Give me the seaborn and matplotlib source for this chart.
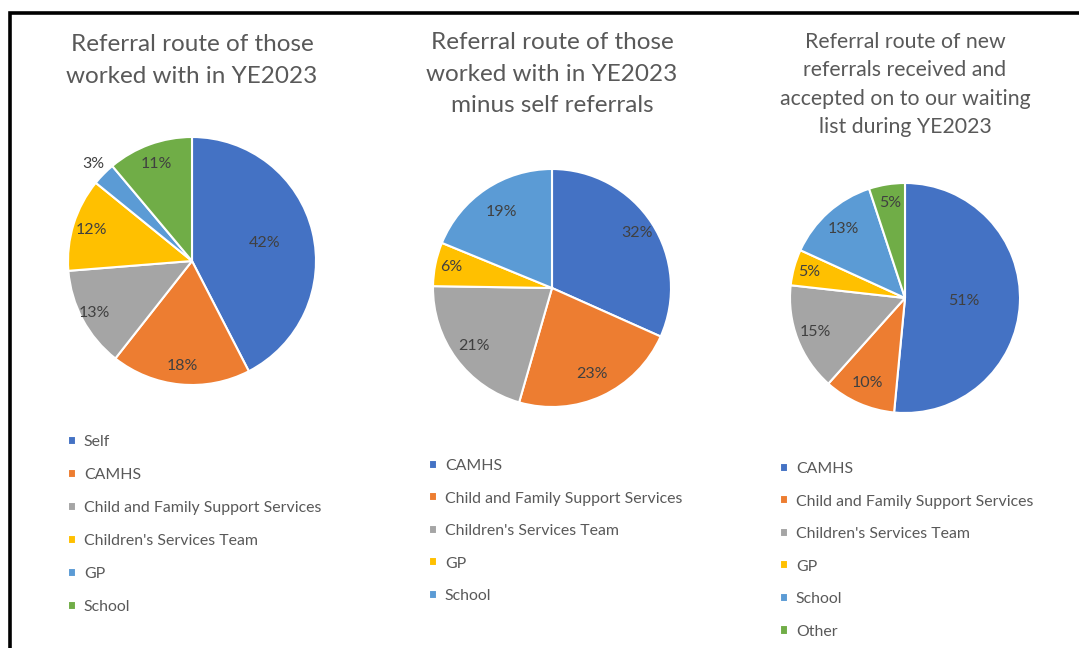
import numpy as np
import matplotlib
matplotlib.use("Agg")
import matplotlib.pyplot as plt
from matplotlib.patches import Rectangle
import seaborn as sns

# --- data (percentages) ---
labels_all = ["Self", "CAMHS", "Child and Family Support Services",
              "Children's Services Team", "GP", "School"]
values_all = [42, 18, 13, 12, 3, 11]

labels_noself = ["CAMHS", "Child and Family Support Services",
                 "Children's Services Team", "GP", "School"]
values_noself = [32, 23, 21, 6, 19]

labels_new = ["CAMHS", "Child and Family Support Services",
              "Children's Services Team", "GP", "School", "Other"]
values_new = [51, 10, 15, 5, 13, 5]

titles = [
    "Referral route of those\nworked with in YE2023",
    "Referral route of those\nworked with in YE2023\nminus self referrals",
    "Referral route of new\nreferrals received and\naccepted on to our waiting\nlist during YE2023",
]

office = ["#4472C4", "#ED7D31", "#A5A5A5", "#FFC000", "#5B9BD5", "#70AD47"]

sns.set_theme(style="white")
plt.rcParams["font.family"] = ["Lato", "DejaVu Sans"]

W, H = 1079, 648
fig = plt.figure(figsize=(W / 100, H / 100), dpi=100)
fig.patch.set_facecolor("white")

# layout in pixels: centre x, centre y, radius, title top, title size, legend top
panels = [
    dict(vals=values_all, labs=labels_all, cols=office,
         cx=192, cy=261, r=124, ty=34, tsize=17.5, tls=1.63,
         lx=68, ly=435, ls=1.2, dist=[0.6, 0.85, 0.89, 0.85, 1.12, 0.83]),
    dict(vals=values_noself, labs=labels_noself,
         cols=office[:5],
         cx=552, cy=288, r=119, ty=32, tsize=17.5, tls=1.63,
         lx=429, ly=459, ls=1.17, dist=[0.85, 0.8, 0.82, 0.86, 0.77]),
    dict(vals=values_new, labs=labels_new, cols=office,
         cx=905, cy=298, r=115, ty=32, tsize=15.3, tls=1.52,
         lx=780, ly=462, ls=1.17, dist=[0.51, 0.81, 0.83, 0.86, 0.8, 0.84]),
]

for p, title in zip(panels, titles):
    r = p["r"]
    ax = fig.add_axes([(p["cx"] - r) / W, 1 - (p["cy"] + r) / H,
                       2 * r / W, 2 * r / H])
    wedges, _ = ax.pie(p["vals"], colors=p["cols"], startangle=90,
                       counterclock=False,
                       wedgeprops=dict(edgecolor="white", linewidth=1.5))
    ax.set_xlim(-1, 1)
    ax.set_ylim(-1, 1)
    ax.set_aspect("equal")
    ax.axis("off")

    for w, v, d in zip(wedges, p["vals"], p["dist"]):
        ang = np.deg2rad((w.theta1 + w.theta2) / 2)
        ax.text(d * np.cos(ang), d * np.sin(ang), f"{v}%",
                ha="center", va="center", fontsize=11.5, color="#404040")

    fig.text(p["cx"] / W, 1 - p["ty"] / H, title, ha="center", va="top",
             fontsize=p["tsize"], color="#595959", linespacing=p["tls"])

    ax.legend(wedges, p["labs"], loc="upper left",
              bbox_to_anchor=(p["lx"] / W, 1 - p["ly"] / H),
              bbox_transform=fig.transFigure, frameon=False,
              handlelength=0.5, handleheight=0.5, handletextpad=0.5,
              labelspacing=p["ls"], fontsize=11.4, labelcolor="#595959",
              borderaxespad=0, borderpad=0)

# frame edges visible at top and left of the screenshot
fig.add_artist(Rectangle((9.5 / W, -0.1), 1.2, 1.1 - 13.5 / H,
                         transform=fig.transFigure, fill=False,
                         edgecolor="black", linewidth=2.6))

fig.savefig("out.png", dpi=100, facecolor="white")
